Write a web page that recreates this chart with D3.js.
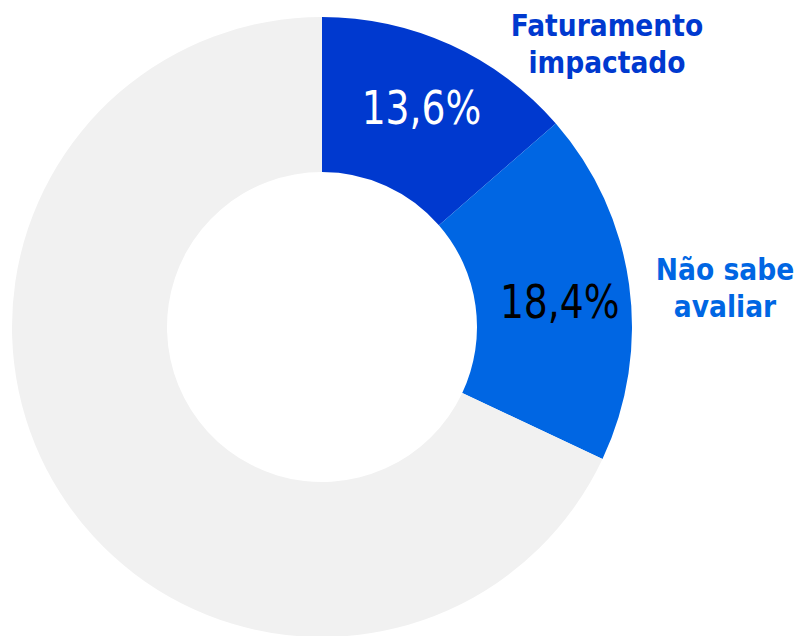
<!DOCTYPE html>
<html>
<head>
<meta charset="utf-8">
<script src="https://cdn.jsdelivr.net/npm/d3@7"></script>
<style>
  body { margin: 0; background: #fff; }
  svg { display: block; }
</style>
</head>
<body>
<svg width="796" height="636"></svg>
<script>
// data
let categories = ["Faturamento impactado", "Não sabe avaliar", "Outros"];
let shares     = [13.6, 18.4, 68.0];
let valueLabels = ["13,6%", "18,4%", ""];
let nameLines  = [["Faturamento", "impactado"], ["Não sabe", "avaliar"], []];

let fills      = ["#0039cf", "#0066e3", "#f1f1f1"];
let valueColor = ["#ffffff", "#000000", "#000000"];
let nameColor  = ["#0039cf", "#0066e3", "#000000"];

let cx = 322, cy = 327;
let rOut = 310, rIn = 155;

let svg = d3.select("svg");
let g = svg.append("g").attr("transform", `translate(${cx},${cy})`);

let pie = d3.pie().sort(null).value(d => d);
let arcs = pie(shares);

let arc = d3.arc().innerRadius(rIn).outerRadius(rOut);
let labelArc = d3.arc().innerRadius(240).outerRadius(240);
let valueDy = [15, 24, 0];

g.selectAll("path.slice")
  .data(arcs)
  .join("path")
  .attr("class", "slice")
  .attr("d", arc)
  .attr("fill", (d, i) => fills[i]);

// values inside slices (font squeezed a bit, like the original)
g.selectAll("text.value")
  .data(arcs)
  .join("text")
  .attr("class", "value")
  .attr("transform", (d, i) => {
    let c = labelArc.centroid(d);
    return `translate(${c[0]},${c[1] + valueDy[i]}) scale(0.91,1)`;
  })
  .attr("text-anchor", "middle")
  .attr("font-family", "DejaVu Sans Condensed, DejaVu Sans")
  .attr("font-stretch", "condensed")
  .attr("font-size", 46)
  .attr("fill", (d, i) => valueColor[i])
  .text((d, i) => valueLabels[i]);

// category names outside
let namePos = [[607, 36], [725, 280]];
arcs.forEach((d, i) => {
  if (!nameLines[i].length) return;
  let t = svg.append("text")
    .attr("text-anchor", "middle")
    .attr("font-family", "DejaVu Sans Condensed, DejaVu Sans")
    .attr("font-stretch", "condensed")
    .attr("font-weight", "bold")
    .attr("font-size", 29.5)
    .attr("fill", nameColor[i]);
  nameLines[i].forEach((line, k) => {
    t.append("tspan")
      .attr("x", namePos[i][0])
      .attr("y", namePos[i][1] + k * 37)
      .text(line);
  });
});
</script>
</body>
</html>
